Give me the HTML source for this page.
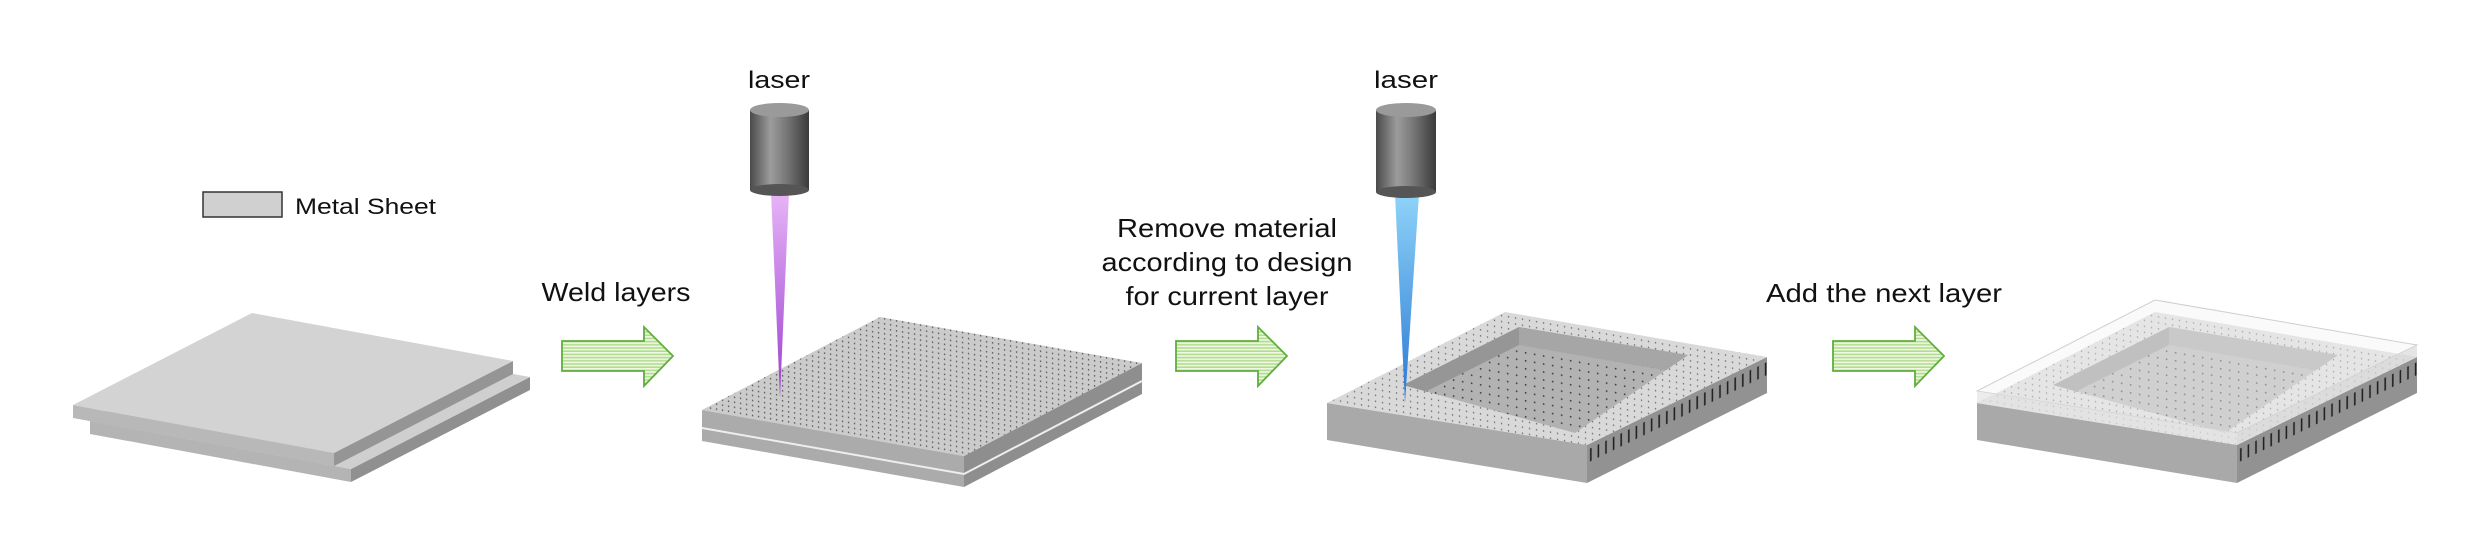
<!DOCTYPE html>
<html><head><meta charset="utf-8"><style>
html,body{margin:0;padding:0;background:#fff;}
svg{display:block;}
text{font-family:"Liberation Sans",Arial,sans-serif;fill:#111;}
</style></head><body>
<svg width="2484" height="546" viewBox="0 0 2484 546" xmlns="http://www.w3.org/2000/svg">
<defs>
  <pattern id="stripe" width="10" height="3.2" patternUnits="userSpaceOnUse">
    <rect width="10" height="3.2" fill="#eef8e4"/>
    <rect y="1.6" width="10" height="1.6" fill="#b3dc8e"/>
  </pattern>
  <pattern id="dotsA" width="6" height="5" patternUnits="userSpaceOnUse" patternTransform="skewY(10)">
    <rect width="6" height="5" fill="#cbcbcb"/>
    <rect x="2" y="2" width="1.2" height="1.6" fill="#555"/>
  </pattern>
  <pattern id="dotsT" width="7" height="6" patternUnits="userSpaceOnUse" patternTransform="skewY(10)">
    <rect width="7" height="6" fill="#d9d9d9"/>
    <rect x="3" y="2" width="1.1" height="1.6" fill="#666"/>
  </pattern>
  <pattern id="dotsF" width="9" height="8" patternUnits="userSpaceOnUse" patternTransform="skewY(10)">
    <rect width="9" height="8" fill="#b2b2b2"/>
    <rect x="4" y="3" width="1.4" height="1.6" fill="#333"/>
  </pattern>
  <pattern id="ticks" width="7.6" height="100" patternUnits="userSpaceOnUse" patternTransform="translate(1587,445) skewY(-26.05)">
    <rect width="7.6" height="100" fill="#929292"/>
    <rect x="3" y="5" width="1.6" height="13" fill="#222"/>
  </pattern>
  <linearGradient id="cyl" x1="0" x2="1" y1="0" y2="0">
    <stop offset="0" stop-color="#4a4a4a"/>
    <stop offset="0.35" stop-color="#9c9c9c"/>
    <stop offset="0.6" stop-color="#7a7a7a"/>
    <stop offset="1" stop-color="#3a3a3a"/>
  </linearGradient>
  <linearGradient id="purple" x1="0" x2="0" y1="0" y2="1">
    <stop offset="0" stop-color="#e7b5f7"/>
    <stop offset="1" stop-color="#9b3fd0"/>
  </linearGradient>
  <linearGradient id="blue" x1="0" x2="0" y1="0" y2="1">
    <stop offset="0" stop-color="#8fd3f8"/>
    <stop offset="1" stop-color="#2a78d4"/>
  </linearGradient>
  <clipPath id="open3"><polygon points="1519,327 1688,355 1575,433 1403,385"/></clipPath>
</defs>

<rect x="203" y="192" width="79" height="25" fill="#d0d0d0" stroke="#333" stroke-width="1.5"/>
<text x="295" y="214" font-size="22" textLength="141" lengthAdjust="spacingAndGlyphs">Metal Sheet</text>

<polygon points="90,421 351,469 351,482 90,434" fill="#b4b4b4"/>
<polygon points="351,469 530,377 530,390 351,482" fill="#909090"/>
<polygon points="269,329 530,377 351,469 90,421" fill="#cfcfcf"/>
<polygon points="73,405 334,453 334,466 73,418" fill="#b8b8b8"/>
<polygon points="334,453 513,361 513,374 334,466" fill="#959595"/>
<polygon points="252,313 513,361 334,453 73,405" fill="#d3d3d3"/>

<g id="arr"><polygon points="562,341 644,341 644,327 673,356 644,386 644,371 562,371" fill="url(#stripe)" stroke="#5fae3e" stroke-width="1.8"/></g>
<text x="616" y="301" font-size="26" text-anchor="middle" textLength="149" lengthAdjust="spacingAndGlyphs">Weld layers</text>

<polygon points="702,410 964,456 964,487 702,441" fill="#ababab"/>
<polygon points="964,456 1142,363 1142,394 964,487" fill="#8e8e8e"/>
<polyline points="702,428 964,474 1142,381" fill="none" stroke="#eee" stroke-width="2"/>
<polygon points="880,317 1142,363 964,456 702,410" fill="url(#dotsA)"/>

<polygon points="771,192 789,192 780,398" fill="url(#purple)"/>
<rect x="750" y="110" width="59" height="80" fill="url(#cyl)"/>
<ellipse cx="779.5" cy="190" rx="29.5" ry="6" fill="#555"/>
<ellipse cx="779.5" cy="110" rx="29.5" ry="7" fill="#9a9a9a"/>
<text x="779" y="88" font-size="24" text-anchor="middle" textLength="62" lengthAdjust="spacingAndGlyphs">laser</text>

<use href="#arr" transform="translate(614,0)"/>
<text x="1227" y="237" font-size="26" text-anchor="middle" textLength="220" lengthAdjust="spacingAndGlyphs">Remove material</text>
<text x="1227" y="271" font-size="26" text-anchor="middle" textLength="251" lengthAdjust="spacingAndGlyphs">according to design</text>
<text x="1227" y="305" font-size="26" text-anchor="middle" textLength="203" lengthAdjust="spacingAndGlyphs">for current layer</text>

<g id="box3">
<polygon points="1327,403 1587,445 1587,483 1327,440" fill="#a9a9a9"/>
<polygon points="1587,445 1767,357 1767,393 1587,483" fill="url(#ticks)"/>
<polygon points="1505,312 1767,357 1587,445 1327,403" fill="url(#dotsT)"/>
<polygon points="1519,327 1688,355 1575,433 1403,385" fill="url(#dotsF)"/>
<g clip-path="url(#open3)">
  <polygon points="1403,385 1519,327 1519,345 1403,403" fill="#969696"/>
  <polygon points="1519,327 1688,355 1688,374 1519,345" fill="#a6a6a6"/>
</g>
</g>

<polygon points="1395,194 1419,194 1405,403" fill="url(#blue)"/>
<rect x="1376" y="110" width="60" height="82" fill="url(#cyl)"/>
<ellipse cx="1406" cy="192" rx="30" ry="6" fill="#555"/>
<ellipse cx="1406" cy="110" rx="30" ry="7" fill="#9a9a9a"/>
<text x="1406" y="88" font-size="24" text-anchor="middle" textLength="64" lengthAdjust="spacingAndGlyphs">laser</text>

<use href="#arr" transform="translate(1271,0)"/>
<text x="1884" y="302" font-size="26" text-anchor="middle" textLength="236" lengthAdjust="spacingAndGlyphs">Add the next layer</text>

<use href="#box3" transform="translate(650,0)"/>
<polygon points="2155,300 2417,345 2237,433 1977,391" fill="#f4f4f4" fill-opacity="0.45" stroke="#cfcfcf" stroke-width="1"/>
<polygon points="1977,391 2237,433 2237,445 1977,403" fill="#e6e6e6" fill-opacity="0.75"/>
<polygon points="2237,433 2417,345 2417,357 2237,445" fill="#dcdcdc" fill-opacity="0.75"/>
</svg>
</body></html>
